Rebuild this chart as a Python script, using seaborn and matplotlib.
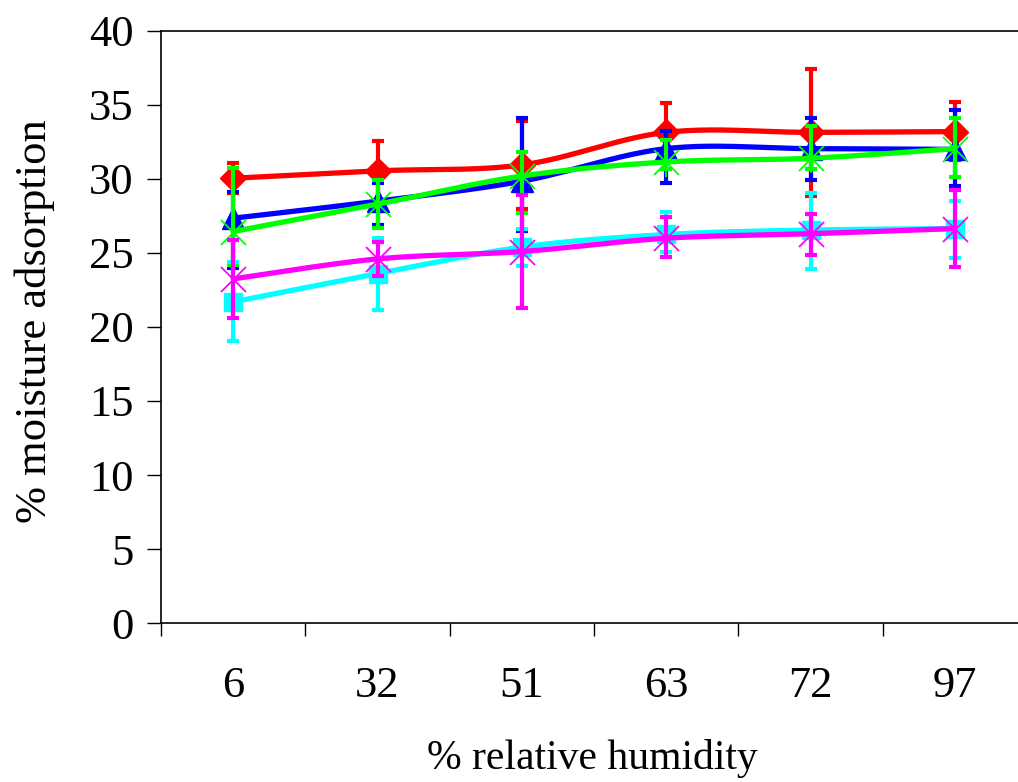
import numpy as np
import pandas as pd
import matplotlib
matplotlib.use("Agg")
import matplotlib.pyplot as plt
import seaborn as sns

# Relative humidity levels (categorical x axis)
rh_labels = ["6", "32", "51", "63", "72", "97"]

# Mean % moisture adsorption and lower / upper error for each sample
red_mean = [30.05, 30.55, 30.95, 33.15, 33.15, 33.2]
red_lo = [1.0, 2.0, 3.0, 2.0, 4.3, 1.9]
red_hi = [1.0, 2.0, 3.0, 2.0, 4.3, 2.0]

blue_mean = [27.35, 28.5, 29.85, 32.05, 32.05, 32.0]
blue_lo = [3.35, 1.6, 3.35, 2.3, 2.1, 2.5]
blue_hi = [1.75, 1.2, 4.25, 1.2, 2.1, 2.65]

green_mean = [26.45, 28.3, 30.2, 31.15, 31.4, 32.05]
green_lo = [2.25, 1.6, 2.5, 0.5, 0.7, 1.9]
green_hi = [4.3, 1.6, 1.65, 1.5, 2.2, 2.05]

cyan_mean = [21.7, 23.6, 25.4, 26.25, 26.55, 26.65]
cyan_lo = [2.65, 2.45, 1.3, 1.15, 2.6, 2.0]
cyan_hi = [2.7, 2.4, 1.2, 1.55, 2.5, 1.85]

magenta_mean = [23.25, 24.6, 25.1, 26.0, 26.3, 26.65]
magenta_lo = [2.65, 1.15, 3.85, 1.3, 1.45, 2.6]
magenta_hi = [2.6, 1.15, 3.8, 1.45, 1.35, 2.6]

y_ticks = [0, 5, 10, 15, 20, 25, 30, 35, 40]

sns.set_style("white")
plt.rcParams["font.family"] = ["Liberation Serif", "DejaVu Serif"]
for key in ["text.color", "axes.labelcolor", "xtick.color", "ytick.color"]:
    plt.rcParams[key] = "black"

fig = plt.figure(figsize=(10.18, 7.82), dpi=100)
ax = fig.add_axes([0.1582, 0.2033, 0.8507, 0.7571])


def smooth_curve(xs, ys, n=40):
    """Cubic Bezier smoothing through every point (spreadsheet-style smoothed line)."""
    pts = np.column_stack([xs, ys]).astype(float)
    segs = []
    for i in range(len(pts) - 1):
        p0 = pts[i - 1] if i > 0 else pts[i]
        p1, p2 = pts[i], pts[i + 1]
        p3 = pts[i + 2] if i + 2 < len(pts) else pts[i + 1]
        c1 = p1 + (p2 - p0) / 6.0
        c2 = p2 - (p3 - p1) / 6.0
        t = np.linspace(0, 1, n)[:, None]
        seg = ((1 - t) ** 3) * p1 + 3 * ((1 - t) ** 2) * t * c1 + 3 * (1 - t) * (t ** 2) * c2 + (t ** 3) * p2
        segs.append(seg if i == 0 else seg[1:])
    return np.vstack(segs)


xpos = np.arange(len(rh_labels))

series = [
    ("S1", red_mean, red_lo, red_hi, "#FF0000", dict(marker="D", ms=13, mew=1)),
    ("S2", blue_mean, blue_lo, blue_hi, "#0000FF", dict(marker="^", ms=16, mew=1)),
    ("S3", green_mean, green_lo, green_hi, "#00FF00", dict(marker="x", ms=18, mew=1.3)),
    ("S4", cyan_mean, cyan_lo, cyan_hi, "#00FFFF", dict(marker="s", ms=13, mew=1)),
    ("S5", magenta_mean, magenta_lo, magenta_hi, "#FF00FF", dict(marker="x", ms=18, mew=1.3)),
]

for k, (name, mean, lo, hi, color, mk) in enumerate(series):
    z = 3 + 3 * k
    curve = smooth_curve(xpos, mean)
    df = pd.DataFrame({"x": curve[:, 0], "y": curve[:, 1]})
    sns.lineplot(data=df, x="x", y="y", sort=False, estimator=None, ax=ax,
                 color=color, linewidth=3.8, zorder=z)
    ax.errorbar(xpos, mean, yerr=[lo, hi], fmt="none", ecolor=color,
                elinewidth=3.0, capsize=4.5, capthick=3.0, zorder=z + 1)
    ax.plot(xpos, mean, linestyle="none", color=color, mec=color, mfc=color,
            zorder=z + 2, **mk)
    if name == "S3":
        # asterisk marker: x with a vertical stroke
        ax.plot(xpos, mean, linestyle="none", marker="|", ms=21, mew=1.3,
                color=color, zorder=z + 2)

ax.set_xlim(-0.5, len(rh_labels) - 0.5)
ax.set_ylim(0, 40)

# boundaries between categories carry the tick marks, centres carry the labels
ax.set_xticks(np.arange(-0.5, len(rh_labels), 1.0))
ax.set_xticklabels([])
ax.set_xticks(xpos, minor=True)
ax.set_xticklabels(rh_labels, minor=True)
ax.tick_params(axis="x", which="major", direction="out", length=9.5, width=1.0,
               color="black", bottom=True)
ax.tick_params(axis="x", which="minor", length=0, pad=31, labelsize=32)

ax.set_yticks(y_ticks)
ax.set_yticklabels([str(v) for v in y_ticks])
ax.tick_params(axis="y", direction="out", length=10, width=1.0, color="black",
               left=True, pad=10, labelsize=32)

for side in ["left", "bottom", "top"]:
    ax.spines[side].set_visible(True)
    ax.spines[side].set_color("black")
    ax.spines[side].set_linewidth(1.2)
ax.spines["right"].set_visible(False)

ax.set_xlabel("% relative humidity", fontsize=30)
ax.set_ylabel("% moisture adsorption", fontsize=32)
ax.xaxis.set_label_coords(0.498, -0.196)
ax.yaxis.set_label_coords(-0.122, 0.51)

fig.savefig("out.png", dpi=100, facecolor="white")
